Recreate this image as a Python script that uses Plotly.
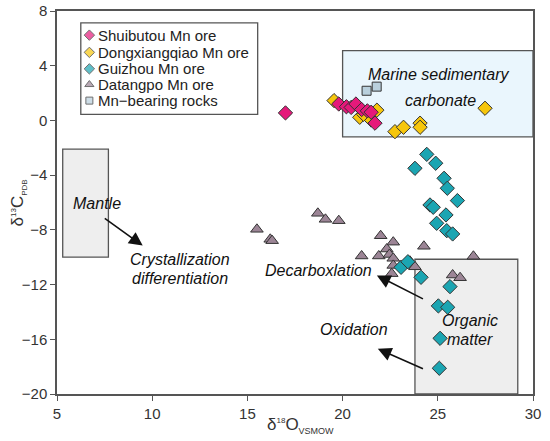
import plotly.graph_objects as go

# ---------------- data ----------------
shui_x = [17.0, 19.8, 20.2, 20.45, 20.7, 21.0, 21.3, 21.5, 21.7]
shui_y = [0.55, 1.2, 1.0, 0.95, 1.2, 0.8, 0.7, 0.6, -0.2]

dong_x = [19.55, 21.8, 20.9, 21.5, 21.1, 22.75, 23.2, 24.07, 24.07, 27.48]
dong_y = [1.45, 0.75, 0.23, 0.03, 0.45, -0.82, -0.5, -0.2, -0.5, 0.89]

gz_x = [24.42, 24.89, 23.8, 25.33, 25.5, 26.03, 24.59, 24.76, 25.43, 24.94,
        25.47, 25.78, 23.07, 23.43, 24.12, 25.64, 25.03, 25.52, 25.12, 25.08]
gz_y = [-2.48, -3.13, -3.5, -4.23, -4.96, -5.86, -6.18, -6.35, -6.91, -7.52,
        -8.06, -8.3, -10.74, -10.33, -11.47, -12.15, -13.56, -13.66, -15.93, -18.12]

dt_x = [15.5, 16.2, 16.3, 18.7, 19.1, 19.8, 21.0, 21.9, 22.0, 22.66, 22.32,
        22.46, 22.66, 22.66, 22.58, 23.54, 23.8, 24.27, 26.87, 25.78, 26.17]
dt_y = [-7.96, -8.69, -8.79, -6.79, -7.23, -7.33, -9.91, -9.91, -8.43, -8.9, -9.4,
        -9.8, -10.08, -10.6, -11.2, -10.3, -10.7, -9.2, -9.93, -11.3, -11.5]

mn_x = [21.26, 21.79]
mn_y = [2.17, 2.47]

series_names = ["Shuibutou Mn ore", "Dongxiangqiao Mn ore", "Guizhou Mn ore",
                "Datangpo Mn ore", "Mn\u2212bearing rocks"]

x_ticks = [5, 10, 15, 20, 25, 30]
y_ticks = [8, 4, 0, -4, -8, -12, -16, -20]

# field boxes (x0, x1, y0, y1)
mantle_box = (5.3, 7.7, -10.0, -2.1)
marine_box = (20.0, 30.0, -1.2, 5.1)
organic_box = (23.8, 29.2, -20.0, -10.15)

# ---------------- style ----------------
C_SHUI = "#e5197a"
C_DONG = "#f6c60c"
C_GZ = "#1ba5b2"
C_DT = "#9c8596"
C_MN = "#b9d0dd"
EDGE = "#333333"
FONT = "Liberation Sans, Arial, sans-serif"

fig = go.Figure()

# field boxes
for (x0, x1, y0, y1), fill in [(mantle_box, "#eeeeee"), (marine_box, "#eaf6fd"),
                               (organic_box, "#eeeeee")]:
    fig.add_shape(type="rect", x0=x0, x1=x1, y0=y0, y1=y1, xref="x", yref="y",
                  fillcolor=fill, line=dict(color="#555555", width=1.3), layer="below")

mk = dict(line=dict(color=EDGE, width=1))
fig.add_trace(go.Scatter(x=dt_x, y=dt_y, mode="markers", name=series_names[3],
                         marker=dict(symbol="triangle-up", size=11, color=C_DT, **mk)))
fig.add_trace(go.Scatter(x=gz_x, y=gz_y, mode="markers", name=series_names[2],
                         marker=dict(symbol="diamond", size=11, color=C_GZ, **mk)))
fig.add_trace(go.Scatter(x=dong_x, y=dong_y, mode="markers", name=series_names[1],
                         marker=dict(symbol="diamond", size=11, color=C_DONG, **mk)))
fig.add_trace(go.Scatter(x=shui_x, y=shui_y, mode="markers", name=series_names[0],
                         marker=dict(symbol="diamond", size=11, color=C_SHUI, **mk)))
fig.add_trace(go.Scatter(x=mn_x, y=mn_y, mode="markers", name=series_names[4],
                         marker=dict(symbol="square", size=9, color=C_MN, **mk)))

# ---------------- custom legend (paper-like overlay axis) ----------------
leg_y = [0.937, 0.892, 0.849, 0.808, 0.766]
leg_sym = ["diamond", "diamond", "diamond", "triangle-up", "square"]
leg_col = [C_SHUI, C_DONG, C_GZ, C_DT, C_MN]
leg_size = [8, 8, 8, 8, 7]
fig.add_trace(go.Scatter(x=[0.068] * 5, y=leg_y, mode="markers", xaxis="x2", yaxis="y2",
                         showlegend=False, hoverinfo="skip",
                         marker=dict(symbol=leg_sym, size=leg_size, color=leg_col,
                                     line=dict(color=EDGE, width=1))))
fig.add_shape(type="rect", xref="paper", yref="paper", x0=0.05, x1=0.4216, y0=0.730, y1=0.969,
              line=dict(color="#555555", width=1.3), fillcolor="rgba(0,0,0,0)")
for name, yy in zip(series_names, leg_y):
    fig.add_annotation(x=0.082, y=yy, xref="paper", yref="paper", text=name, showarrow=False,
                       xanchor="left", yanchor="middle",
                       font=dict(family=FONT, size=15, color="#222"))

# ---------------- texts & arrows ----------------
def label(x, y, t, size=16):
    fig.add_annotation(x=x, y=y, xref="x", yref="y", text="<i>%s</i>" % t, showarrow=False,
                       xanchor="center", yanchor="middle",
                       font=dict(family=FONT, size=size, color="#111"))

label(7.1, -6.1, "Mantle")
label(11.46, -10.2, "Crystallization")
label(11.46, -11.54, "differentiation")
label(25.06, 3.39, "Marine sedimentary")
label(25.15, 1.49, "carbonate")
label(18.76, -11.0, "Decarboxlation")
label(20.6, -15.3, "Oxidation")
label(26.69, -14.66, "Organic")
label(26.69, -16.0, "matter")

def arrow(tx, ty, hx, hy):
    fig.add_annotation(x=hx, y=hy, ax=tx, ay=ty, xref="x", yref="y", axref="x", ayref="y",
                       text="", showarrow=True, arrowhead=2, arrowsize=1.7, arrowwidth=1.6,
                       arrowcolor="#111")

arrow(7.43, -7.08, 9.5, -9.15)
arrow(24.3, -13.1, 21.8, -11.33)
arrow(24.3, -18.2, 21.85, -16.7)

# axis titles as annotations (exact placement)
fig.add_annotation(x=0.5126, y=-0.081, xref="paper", yref="paper", showarrow=False,
                   xanchor="center", yanchor="middle",
                   text="\u03b4<sup><span style='font-size:8px'>18</span></sup>O"
                        "<sub><span style='font-size:9px'>VSMOW</span></sub>",
                   font=dict(family=FONT, size=17, color="#333"))
fig.add_annotation(x=-0.080, y=0.5, xref="paper", yref="paper", showarrow=False,
                   xanchor="center", yanchor="middle", textangle=-90,
                   text="\u03b4<sup><span style='font-size:8px'>13</span></sup>C"
                        "<sub><span style='font-size:8px'>PDB</span></sub>",
                   font=dict(family=FONT, size=17, color="#333"))

axis_common = dict(showgrid=False, zeroline=False, showline=True, linecolor="#555555",
                   linewidth=1.5, mirror=True, ticks="outside", ticklen=5, tickwidth=1.3,
                   tickcolor="#555555", automargin=False,
                   tickfont=dict(family=FONT, size=15, color="#333"))

fig.update_layout(
    template="none",
    width=550, height=441,
    margin=dict(l=57, r=17, t=11, b=47, autoexpand=False),
    paper_bgcolor="white", plot_bgcolor="white",
    showlegend=False,
    xaxis=dict(range=[5, 30], tickvals=x_ticks, **axis_common),
    yaxis=dict(range=[-20, 8], tickvals=y_ticks, **axis_common),
    xaxis2=dict(range=[0, 1], domain=[0, 1], overlaying="x", visible=False, fixedrange=True),
    yaxis2=dict(range=[0, 1], domain=[0, 1], overlaying="y", visible=False, fixedrange=True),
)

# remove the default 8px page margin so the figure sits at the window's top-left corner
fig.write_html("out.html", config={"displayModeBar": False},
               post_script="document.body.style.margin='0px';document.body.style.overflow='hidden';")
